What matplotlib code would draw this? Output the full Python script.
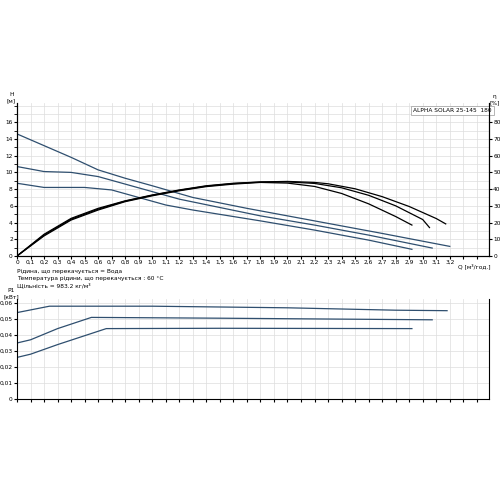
import matplotlib
matplotlib.use("Agg")
import matplotlib.pyplot as plt
import numpy as np

q_h1 = [0, 0.2, 0.4, 0.6, 0.8, 1.0, 1.3, 1.7, 2.2, 2.7, 3.2]
h1 = [14.6, 13.2, 11.8, 10.3, 9.3, 8.4, 7.0, 5.7, 4.2, 2.7, 1.15]
q_h2 = [0, 0.2, 0.4, 0.6, 0.8, 1.0, 1.2, 1.5, 1.8, 2.2, 2.6, 3.07]
h2 = [10.7, 10.1, 10.0, 9.5, 8.6, 7.7, 6.8, 5.8, 4.8, 3.7, 2.5, 0.95]
q_h3 = [0, 0.2, 0.5, 0.7, 0.9, 1.1, 1.3, 1.8, 2.2, 2.6, 2.92]
h3 = [8.7, 8.2, 8.2, 7.9, 7.0, 6.1, 5.5, 4.2, 3.1, 1.9, 0.8]

q_e1 = [0, 0.2, 0.4, 0.6, 0.8, 1.0, 1.2, 1.4, 1.6, 1.8, 2.0, 2.2, 2.3, 2.5, 2.7, 2.9, 3.1, 3.17]
e1 = [0, 13, 22.5, 28.5, 33, 36.5, 39.5, 42, 43.5, 44.3, 44.6, 44, 43.2, 40.2, 35.5, 29.6, 22.4, 19.2]
q_e2 = [0, 0.2, 0.4, 0.6, 0.8, 1.0, 1.2, 1.4, 1.6, 1.8, 2.0, 2.2, 2.4, 2.6, 2.8, 3.0, 3.05]
e2 = [0, 12.5, 22, 28, 32.8, 36.3, 39.3, 41.8, 43.3, 44.2, 44.3, 43.4, 40.8, 36.3, 30, 21.8, 17]
q_e3 = [0, 0.2, 0.4, 0.6, 0.8, 1.0, 1.2, 1.4, 1.6, 1.8, 2.0, 2.2, 2.4, 2.6, 2.8, 2.92]
e3 = [0, 12, 21.5, 27.5, 32.5, 36, 39, 41.5, 43, 44, 43.6, 41.6, 37.4, 31.2, 23.6, 18.5]

q_p1 = [0, 0.24, 1.0, 2.0, 2.8, 3.18]
p1 = [0.054, 0.058, 0.058, 0.057, 0.0555, 0.0552]
q_p2 = [0, 0.1, 0.3, 0.55, 1.5, 3.07]
p2 = [0.035, 0.037, 0.044, 0.051, 0.0505, 0.0495]
q_p3 = [0, 0.1, 0.3, 0.66, 1.5, 2.92]
p3 = [0.026, 0.028, 0.034, 0.044, 0.0442, 0.044]

blue = "#2f4f6f"
fs = 4.2
def c(v, d=1):
    return (f"{v:.{d}f}").replace(".", ",")

fig = plt.figure(figsize=(5, 5), dpi=100)
ax = fig.add_axes([0.034, 0.488, 0.944, 0.306])
ax2 = ax.twinx()
for q, h in [(q_h1, h1), (q_h2, h2), (q_h3, h3)]:
    ax.plot(q, h, color=blue, lw=0.9)
for q, e in [(q_e1, e1), (q_e2, e2), (q_e3, e3)]:
    ax2.plot(q, e, color="black", lw=0.9)
ax.set_xlim(0, 3.49); ax.set_ylim(0, 18.3); ax2.set_ylim(0, 91.5)
xt = [round(i * 0.1, 1) for i in range(35)]
ax.set_xticks(xt)
ax.set_xticklabels([("0" if v == 0 else (c(v) if v <= 3.2 else "")) for v in xt], fontsize=fs)
ax.set_yticks(range(0, 17, 2)); ax.set_yticklabels([str(v) for v in range(0, 17, 2)], fontsize=fs)
ax.set_yticks(range(0, 19, 1), minor=True)
ax2.set_yticks(range(0, 81, 10)); ax2.set_yticklabels([str(v) for v in range(0, 81, 10)], fontsize=fs)
ax.grid(True, which="both", color="#dddddd", lw=0.5)
ax.tick_params(length=2, pad=1); ax2.tick_params(length=2, pad=1)
for a in (ax, ax2):
    a.spines["top"].set_visible(False)
ax.text(-0.012, 1.0, "H\n[м]", transform=ax.transAxes, fontsize=fs, ha="center", va="bottom")
ax2.text(1.012, 0.985, "η\n[%]", transform=ax.transAxes, fontsize=fs, ha="center", va="bottom")
ax.text(3.26, -0.9, "Q [м³/год.]", fontsize=fs, va="top")
ax.text(2.93, 17.4, "ALPHA SOLAR 25-145  180", fontsize=fs, va="center",
        bbox=dict(facecolor="white", edgecolor="#999999", lw=0.5, pad=1.5))
fig.text(0.034, 0.455, "Рідина, що перекачується = Вода", fontsize=fs)
fig.text(0.034, 0.44, "Температура рідини, що перекачується : 60 °C", fontsize=fs)
fig.text(0.034, 0.425, "Щільність = 983.2 кг/м³", fontsize=fs)

bx = fig.add_axes([0.034, 0.202, 0.944, 0.2])
for q, p in [(q_p1, p1), (q_p2, p2), (q_p3, p3)]:
    bx.plot(q, p, color=blue, lw=0.9)
bx.set_xlim(0, 3.49); bx.set_ylim(0, 0.0625)
bx.set_xticks(xt); bx.set_xticklabels([])
bx.set_yticks([i * 0.01 for i in range(7)])
bx.set_yticklabels(["0"] + [c(i * 0.01, 2) for i in range(1, 7)], fontsize=fs)
bx.grid(True, color="#dddddd", lw=0.5)
bx.tick_params(length=2, pad=1)
bx.spines["top"].set_visible(False)
bx.text(-0.012, 1.0, "P1\n[кВт]", transform=bx.transAxes, fontsize=fs, ha="center", va="bottom")
fig.savefig("out.png", dpi=100)
